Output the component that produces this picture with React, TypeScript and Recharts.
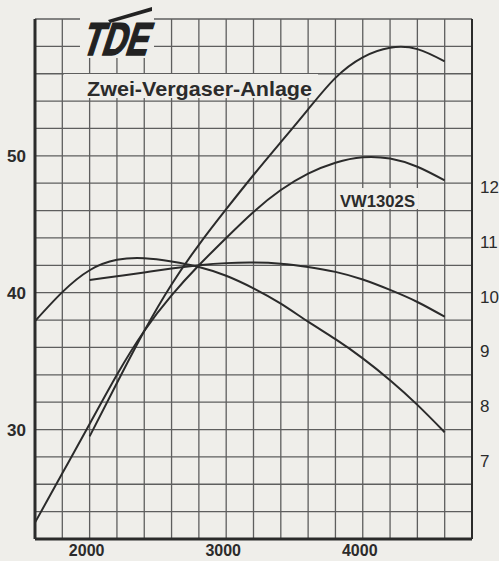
import React from 'react';
import { LineChart, Line, XAxis, YAxis, CartesianGrid } from 'recharts';

// engine speed (1/min)
const rpm = [1600, 1800, 2000, 2200, 2400, 2600, 2800, 3000, 3200, 3400, 3600, 3800, 4000, 4200, 4400, 4600];
// power (PS), left axis
const stockPower = [23.2, 26.8, 30.4, 34.0, 37.2, 39.8, 42.0, 44.0, 45.9, 47.5, 48.7, 49.5, 49.9, 49.8, 49.2, 48.2];
const twinPower = [null, null, 29.5, 33.4, 37.2, 40.6, 43.5, 46.1, 48.6, 51.0, 53.4, 55.7, 57.2, 57.9, 57.8, 56.9];
// torque (mkp), right axis
const stockTorque = [9.48, 10.01, 10.41, 10.6, 10.63, 10.57, 10.47, 10.31, 10.08, 9.8, 9.47, 9.15, 8.8, 8.4, 7.95, 7.45];
const twinTorque = [null, null, 10.23, 10.3, 10.37, 10.44, 10.5, 10.54, 10.55, 10.53, 10.47, 10.38, 10.24, 10.05, 9.83, 9.56];

const xTicks = [1600, 1800, 2000, 2200, 2400, 2600, 2800, 3000, 3200, 3400, 3600, 3800, 4000, 4200, 4400, 4600, 4800];
const xLabels = [2000, 3000, 4000];
const leftTicks = [22, 24, 26, 28, 30, 32, 34, 36, 38, 40, 42, 44, 46, 48, 50, 52, 54, 56, 58, 60];
const leftLabels = [30, 40, 50];
const rightTicks = [7, 8, 9, 10, 11, 12];

const title = 'Zwei-Vergaser-Anlage';
const seriesLabel = 'VW1302S';
const logo = 'TDE';

const data = rpm.map((r, i) => ({
  rpm: r,
  stockPower: stockPower[i],
  twinPower: twinPower[i],
  stockTorque: stockTorque[i],
  twinTorque: twinTorque[i],
}));

const INK = '#2b2b2b';
const GRID = '#5e5e5e';
const PAPER = '#efeeea';
const FONT = '"Liberation Sans", Arial, sans-serif';

const XTick = (props: any) => {
  const { x, y, payload } = props;
  if (!xLabels.includes(payload.value)) return null;
  return (
    <text x={x - 3} y={y + 9} textAnchor="middle" fontFamily={FONT} fontWeight="bold" fontSize={16} fill={INK}>
      {payload.value}
    </text>
  );
};

const LeftTick = (props: any) => {
  const { x, y, payload } = props;
  if (!leftLabels.includes(payload.value)) return null;
  return (
    <text x={x - 1} y={y + 6} textAnchor="end" fontFamily={FONT} fontWeight="bold" fontSize={17} fill={INK}>
      {payload.value}
    </text>
  );
};

const RightTick = (props: any) => {
  const { x, y, payload } = props;
  return (
    <text x={x} y={y + 10} textAnchor="start" fontFamily={FONT} fontSize={17} fill={INK}>
      {payload.value}
    </text>
  );
};

export default function App() {
  return (
    <div style={{ position: 'absolute', left: 0, top: 0, width: 499, height: 561, background: PAPER }}>
      <LineChart width={499} height={561} data={data} margin={{ top: 19, right: 0, bottom: 0, left: 0 }}>
        <CartesianGrid stroke={GRID} strokeWidth={1.3} />
        <rect x={64} y={74} width={254} height={24} fill={PAPER} />
        <rect x={80} y={2} width={74} height={56} fill={PAPER} />
        <rect x={338} y={188} width={80} height={21} fill={PAPER} />
        <text x={87} y={96} fontFamily={FONT} fontWeight="bold" fontSize={21} fill={INK} textLength={225} lengthAdjust="spacingAndGlyphs">
          {title}
        </text>
        <text x={340} y={207} fontFamily={FONT} fontWeight="bold" fontSize={16} fill={INK} textLength={75} lengthAdjust="spacingAndGlyphs">
          {seriesLabel}
        </text>
        <g transform="skewX(-18)">
          <text x={98} y={55} fontFamily={FONT} fontWeight="bold" fontSize={46} fill="#222" stroke="#222" strokeWidth={1.5} textLength={66} lengthAdjust="spacingAndGlyphs">
            {logo}
          </text>
        </g>
        <polygon points="108,20 152,7 152,11 110,23" fill="#222" />
        <XAxis
          dataKey="rpm"
          type="number"
          domain={[1600, 4800]}
          ticks={xTicks}
          interval={0}
          height={22}
          tickLine={false}
          tick={<XTick />}
          axisLine={{ stroke: INK, strokeWidth: 3 }}
        />
        <XAxis
          xAxisId="top"
          orientation="top"
          dataKey="rpm"
          type="number"
          domain={[1600, 4800]}
          height={0}
          tick={false}
          tickLine={false}
          axisLine={{ stroke: INK, strokeWidth: 2 }}
        />
        <YAxis
          type="number"
          domain={[22, 60]}
          ticks={leftTicks}
          interval={0}
          width={35}
          tickLine={false}
          tick={<LeftTick />}
          axisLine={{ stroke: INK, strokeWidth: 3 }}
        />
        <YAxis
          yAxisId="right"
          orientation="right"
          type="number"
          domain={[5.5, 15]}
          ticks={rightTicks}
          interval={0}
          width={27}
          tickLine={false}
          tick={<RightTick />}
          axisLine={{ stroke: INK, strokeWidth: 2 }}
        />
        <Line dataKey="stockPower" type="natural" stroke={INK} strokeWidth={2} dot={false} isAnimationActive={false} />
        <Line dataKey="twinPower" type="natural" stroke={INK} strokeWidth={2} dot={false} isAnimationActive={false} />
        <Line yAxisId="right" dataKey="stockTorque" type="natural" stroke={INK} strokeWidth={2} dot={false} isAnimationActive={false} />
        <Line yAxisId="right" dataKey="twinTorque" type="natural" stroke={INK} strokeWidth={2} dot={false} isAnimationActive={false} />
      </LineChart>
    </div>
  );
}
